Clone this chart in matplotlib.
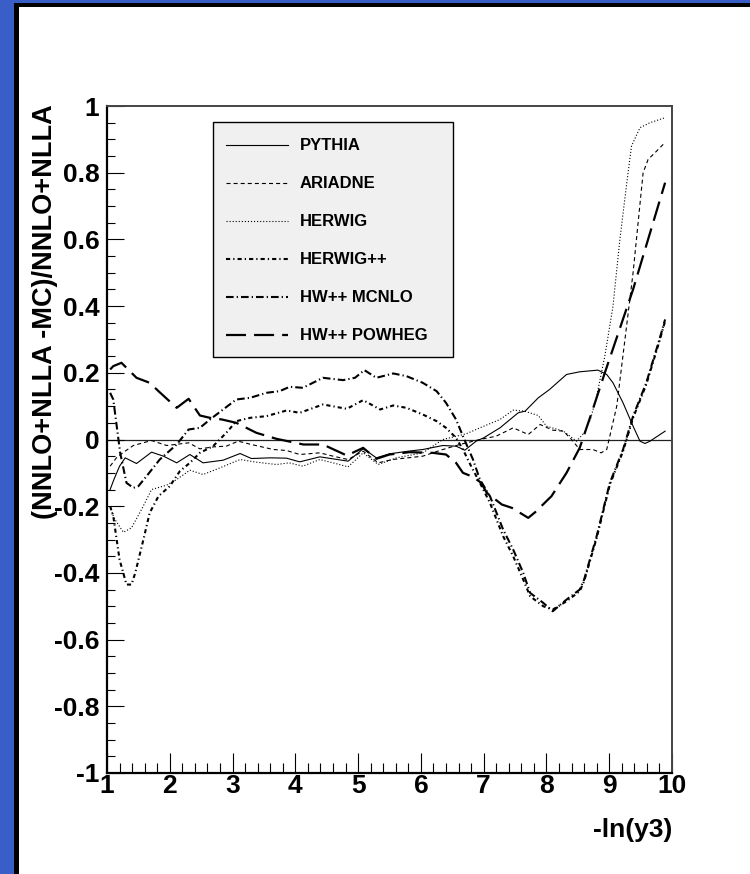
import matplotlib
matplotlib.use("Agg")
import matplotlib.pyplot as plt
from matplotlib.patches import Rectangle
from matplotlib.lines import Line2D
from matplotlib.ticker import MultipleLocator

plt.rcParams["lines.scale_dashes"] = False
plt.rcParams["font.family"] = ["Liberation Sans", "DejaVu Sans"]

# ---- data: relative difference (NNLO+NLLA - MC)/(NNLO+NLLA) vs -ln(y3) ----
pythia_x = [1.05, 1.11, 1.2, 1.29, 1.47, 1.71, 1.9, 2.11, 2.32, 2.53, 2.85, 3.12, 3.3, 3.6,
            3.86, 4.07, 4.39, 4.6, 4.84, 4.97, 5.08, 5.18, 5.29, 5.5, 5.8, 6.03, 6.35, 6.56,
            6.7, 6.88, 7.0, 7.26, 7.55, 7.66, 7.87, 8.05, 8.32, 8.53, 8.82, 8.96, 9.06, 9.22,
            9.38, 9.49, 9.57, 9.65, 9.89]
pythia_y = [-0.15, -0.12, -0.08, -0.055, -0.072, -0.038, -0.05, -0.07, -0.045, -0.07, -0.062,
            -0.042, -0.057, -0.055, -0.056, -0.067, -0.052, -0.058, -0.065, -0.045, -0.028,
            -0.04, -0.055, -0.043, -0.035, -0.03, -0.018, -0.02, -0.032, -0.005, 0.005, 0.035,
            0.08, 0.085, 0.125, 0.15, 0.195, 0.203, 0.208, 0.195, 0.17, 0.11, 0.04, -0.005,
            -0.012, -0.005, 0.025]

ariadne_x = [1.05, 1.15, 1.25, 1.42, 1.71, 1.95, 2.3, 2.48, 2.7, 2.9, 3.09, 3.3, 3.65, 3.86,
             4.07, 4.39, 4.6, 4.84, 5.08, 5.32, 5.55, 6.03, 6.35, 6.62, 6.94, 7.2, 7.47, 7.71,
             7.9, 8.1, 8.27, 8.4, 8.53, 8.74, 8.87, 8.96, 9.12, 9.27, 9.38, 9.46, 9.54, 9.62,
             9.73, 9.86]
ariadne_y = [-0.08, -0.055, -0.04, -0.018, -0.003, -0.018, -0.01, -0.028, -0.022, -0.02,
             -0.005, -0.015, -0.03, -0.033, -0.045, -0.04, -0.05, -0.06, -0.035, -0.07, -0.06,
             -0.05, -0.03, -0.015, 0.0, 0.01, 0.035, 0.015, 0.045, 0.028, 0.025, 0.0, -0.03,
             -0.03, -0.04, -0.03, 0.1, 0.33, 0.5, 0.65, 0.8, 0.84, 0.86, 0.885]

herwig_x = [1.05, 1.11, 1.26, 1.39, 1.55, 1.71, 1.95, 2.11, 2.32, 2.53, 2.8, 3.12, 3.38, 3.7,
            3.9, 4.12, 4.39, 4.6, 4.84, 5.08, 5.32, 5.61, 6.03, 6.35, 6.72, 6.94, 7.26, 7.47,
            7.65, 7.87, 8.0, 8.27, 8.48, 8.6, 8.7, 8.8, 8.93, 9.06, 9.17, 9.28, 9.355, 9.49,
            9.65, 9.89]
herwig_y = [-0.2, -0.235, -0.278, -0.265, -0.21, -0.15, -0.137, -0.12, -0.092, -0.105, -0.085,
            -0.06, -0.068, -0.075, -0.07, -0.08, -0.06, -0.07, -0.082, -0.04, -0.075, -0.055,
            -0.04, 0.0, 0.017, 0.035, 0.06, 0.088, 0.085, 0.072, 0.04, 0.025, -0.005, 0.02,
            0.06, 0.13, 0.25, 0.4, 0.6, 0.77, 0.88, 0.935, 0.95, 0.965]

herwigpp_x = [1.05, 1.1, 1.2, 1.31, 1.39, 1.45, 1.58, 1.68, 1.82, 2.0, 2.16, 2.32, 2.48, 2.69,
              2.9, 3.06, 3.28, 3.54, 3.86, 4.07, 4.44, 4.82, 5.08, 5.35, 5.56, 5.77, 6.03, 6.25,
              6.4, 6.56, 6.67, 6.8, 6.94, 7.1, 7.31, 7.47, 7.63, 7.74, 7.95, 8.1, 8.32, 8.53,
              8.6, 8.8, 9.01, 9.22, 9.38, 9.59, 9.8, 9.89]
herwigpp_y = [-0.2, -0.23, -0.36, -0.435, -0.435, -0.4, -0.3, -0.22, -0.17, -0.14, -0.095,
              -0.07, -0.04, -0.02, 0.02, 0.055, 0.065, 0.07, 0.087, 0.08, 0.105, 0.092, 0.118,
              0.09, 0.102, 0.095, 0.075, 0.055, 0.035, 0.005, -0.03, -0.08, -0.13, -0.19,
              -0.29, -0.35, -0.42, -0.47, -0.5, -0.51, -0.485, -0.455, -0.425, -0.295, -0.135,
              -0.035, 0.065, 0.165, 0.295, 0.355]

mcnlo_x = [1.05, 1.1, 1.21, 1.31, 1.42, 1.5, 1.63, 1.84, 2.11, 2.3, 2.48, 2.64, 2.85, 3.06,
           3.28, 3.54, 3.75, 3.91, 4.12, 4.44, 4.76, 4.95, 5.1, 5.29, 5.56, 5.77, 6.03, 6.25,
           6.4, 6.56, 6.67, 6.83, 6.94, 7.1, 7.31, 7.47, 7.63, 7.74, 7.95, 8.1, 8.32, 8.53,
           8.6, 8.8, 9.01, 9.22, 9.38, 9.59, 9.8, 9.89]
mcnlo_y = [0.14, 0.12, -0.04, -0.13, -0.145, -0.14, -0.11, -0.06, -0.015, 0.03, 0.035, 0.06,
           0.09, 0.12, 0.125, 0.14, 0.145, 0.158, 0.155, 0.185, 0.178, 0.185, 0.208, 0.185,
           0.198, 0.19, 0.17, 0.145, 0.11, 0.06, 0.01, -0.06, -0.12, -0.17, -0.27, -0.33,
           -0.4, -0.46, -0.49, -0.515, -0.48, -0.45, -0.42, -0.29, -0.13, -0.03, 0.07, 0.17,
           0.3, 0.36]

powheg_x = [1.05, 1.1, 1.23, 1.47, 1.68, 1.82, 2.11, 2.3, 2.48, 2.64, 2.83, 3.06, 3.38, 3.7,
            4.13, 4.45, 4.52, 4.82, 5.08, 5.29, 5.5, 5.82, 6.19, 6.4, 6.56, 6.67, 6.83, 6.96,
            7.05, 7.29, 7.45, 7.71, 7.82, 8.08, 8.32, 8.53, 8.72, 8.93, 9.38, 9.89]
powheg_y = [0.21, 0.22, 0.23, 0.185, 0.17, 0.145, 0.095, 0.122, 0.072, 0.065, 0.06, 0.05,
            0.02, 0.002, -0.015, -0.015, -0.022, -0.048, -0.025, -0.058, -0.045, -0.038, -0.04,
            -0.045, -0.07, -0.1, -0.112, -0.13, -0.16, -0.195, -0.205, -0.235, -0.218, -0.17,
            -0.1, -0.025, 0.08, 0.2, 0.45, 0.77]

series_labels = ["PYTHIA", "ARIADNE", "HERWIG", "HERWIG++", "HW++ MCNLO", "HW++ POWHEG"]
series_x = [pythia_x, ariadne_x, herwig_x, herwigpp_x, mcnlo_x, powheg_x]
series_y = [pythia_y, ariadne_y, herwig_y, herwigpp_y, mcnlo_y, powheg_y]

x_ticks = list(range(1, 11))
x_tick_labels = [str(v) for v in x_ticks]
y_ticks = [-1.0, -0.8, -0.6, -0.4, -0.2, 0.0, 0.2, 0.4, 0.6, 0.8, 1.0]
y_tick_labels = ["-1", "-0.8", "-0.6", "-0.4", "-0.2", "0", "0.2", "0.4", "0.6", "0.8", "1"]

# ---- line styles (dash lengths in points) ----
styles = [
    dict(color="black", lw=0.8, linestyle="-"),
    dict(color="black", lw=0.8, linestyle=(0, (2.9, 2.2))),
    dict(color="black", lw=0.8, linestyle=(0, (0.8, 1.4))),
    dict(color="black", lw=1.5, linestyle=(0, (3.0, 2.2, 0.9, 2.2))),
    dict(color="black", lw=1.5, linestyle=(0, (5.5, 2.2, 0.9, 2.2))),
    dict(color="black", lw=1.6, linestyle=(0, (14.4, 5.8))),
]

W, H = 750, 874


def fx(px):
    return px / W


def fy(py):
    return 1 - py / H


fig = plt.figure(figsize=(W / 100, H / 100), dpi=100)
fig.patch.set_facecolor("white")

# canvas border: blue bevel with dark inner edge on the left and top
fig.add_artist(Rectangle((0, 0), fx(14), 1, transform=fig.transFigure,
                         facecolor="#3a5ec8", edgecolor="none", zorder=-5))
fig.add_artist(Rectangle((0, fy(3)), 1, fy(0) - fy(3), transform=fig.transFigure,
                         facecolor="#3a5ec8", edgecolor="none", zorder=-5))
fig.add_artist(Rectangle((fx(14), 0), fx(19) - fx(14), fy(3), transform=fig.transFigure,
                         facecolor="black", edgecolor="none", zorder=-4))
fig.add_artist(Rectangle((fx(14), fy(7)), 1 - fx(14), fy(3) - fy(7), transform=fig.transFigure,
                         facecolor="black", edgecolor="none", zorder=-4))

ax = fig.add_axes([fx(107), fy(773), fx(672) - fx(107), fy(106) - fy(773)])
ax.set_facecolor("white")

for xs, ys, st in zip(series_x, series_y, styles):
    ax.plot(xs, ys, **st)

ax.axhline(0, color="#222222", lw=0.9, zorder=1)

ax.set_xlim(1, 10)
ax.set_ylim(-1, 1)

tick_font = dict(fontsize=19, fontweight="bold")
ax.set_xticks(x_ticks)
ax.set_xticklabels(x_tick_labels, **tick_font)
ax.set_yticks(y_ticks)
ax.set_yticklabels(y_tick_labels, **tick_font)
ax.xaxis.set_minor_locator(MultipleLocator(0.2))
ax.yaxis.set_minor_locator(MultipleLocator(0.05))
ax.tick_params(axis="x", which="major", direction="in", length=14.4, width=0.8, pad=1)
ax.tick_params(axis="x", which="minor", direction="in", length=7.2, width=0.8)
ax.tick_params(axis="y", which="major", direction="in", length=12.2, width=0.8, pad=5.5)
ax.tick_params(axis="y", which="minor", direction="in", length=6.1, width=0.8)
ax.tick_params(top=False, right=False, which="both")

for side in ["left", "bottom"]:
    ax.spines[side].set_linewidth(1.6)
    ax.spines[side].set_color("black")
for side in ["top", "right"]:
    ax.spines[side].set_linewidth(1.4)
    ax.spines[side].set_color("#444444")

# axis titles
fig.text(fx(672), fy(830), "-ln(y3)", ha="right", va="center", fontsize=19, fontweight="bold")
fig.text(fx(45), fy(104), "(NNLO+NLLA -MC)/NNLO+NLLA", rotation=90, ha="center", va="top",
         fontsize=19.5, fontweight="bold")

# legend box
fig.add_artist(Rectangle((fx(213), fy(357)), fx(453) - fx(213), fy(122) - fy(357),
                         transform=fig.transFigure, facecolor="#f0f0f0",
                         edgecolor="black", lw=1.0, zorder=3))
entry_y = [145, 183, 221, 259, 297, 335]
for lab, st, ey in zip(series_labels, styles, entry_y):
    fig.add_artist(Line2D([fx(226), fx(288)], [fy(ey), fy(ey)], transform=fig.transFigure,
                          zorder=4, **st))
    fig.text(fx(300), fy(ey), lab, ha="left", va="center", fontsize=12, fontweight="bold",
             zorder=4)

fig.savefig("out.png", dpi=100)
